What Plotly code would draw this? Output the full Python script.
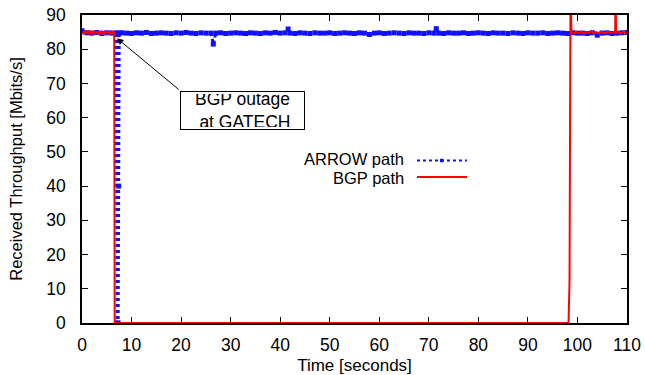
import plotly.graph_objects as go

# ---- data ----
arrow_t = [0, 1, 2, 3, 4, 5, 6, 6.9, 7.1, 7.3, 7.4, 7.5, 8, 9, 10, 11, 12, 13, 14, 15,
           16, 17, 18, 19, 20, 21, 22, 23, 24, 25, 26, 26.5, 27, 28, 29, 30, 31, 32, 33, 34,
           35, 36, 37, 38, 39, 40, 41, 41.6, 42, 43, 44, 45, 46, 47, 48, 49, 50, 51, 52, 53,
           54, 55, 56, 57, 58, 59, 60, 61, 62, 63, 64, 65, 66, 67, 68, 69, 70, 71, 71.5, 72,
           73, 74, 75, 76, 77, 78, 79, 80, 81, 82, 83, 84, 85, 86, 87, 88, 89, 90, 91, 92,
           93, 94, 95, 96, 97, 98, 99, 100, 101, 102, 103, 104, 105, 106, 107, 108, 109, 110]
arrow_v = [85.4, 84.8, 84.7, 84.9, 84.6, 84.8, 84.7, 84.8, 0, 0, 40, 84.7, 84.8, 84.7, 84.6, 84.8, 84.7, 84.9, 84.6, 84.7,
           84.8, 84.7, 84.6, 84.8, 84.7, 84.9, 84.7, 84.6, 84.8, 84.7, 84.7, 81.5, 84.7, 84.8, 84.6, 84.7, 84.8, 84.7, 84.6, 84.8,
           84.7, 84.6, 84.8, 84.7, 84.9, 84.7, 84.8, 85.9, 84.7, 84.6, 84.8, 84.7, 84.6, 84.8, 84.7, 84.7, 84.8, 84.6, 84.7, 84.8,
           84.7, 84.6, 84.8, 84.7, 84.3, 84.7, 84.8, 84.6, 84.7, 84.8, 84.7, 84.6, 84.8, 84.7, 84.7, 84.6, 84.8, 84.7, 86.0, 84.7,
           84.6, 84.8, 84.7, 84.7, 84.8, 84.6, 84.7, 84.8, 84.7, 84.6, 84.8, 84.7, 84.7, 84.6, 84.8, 84.7, 84.6, 84.8, 84.7, 84.7,
           84.8, 84.6, 84.7, 84.8, 84.7, 84.6, 84.8, 84.7, 84.7, 84.6, 84.8, 84.1, 84.7, 84.8, 84.6, 84.7, 84.8, 84.9]

bgp_t = [0, 0.25, 0.5, 0.75, 1, 1.25, 1.5, 1.75, 2, 2.25, 2.5, 2.75, 3, 3.25, 3.5, 3.75,
         4, 4.25, 4.5, 4.75, 5, 5.25, 5.5, 5.75, 6, 6.25, 6.5, 6.6, 98.2, 98.4, 98.6, 98.8,
         99.25, 99.75, 100.25, 100.75, 101.25, 101.75, 102.25, 102.75, 103.25, 103.75, 104.25,
         104.75, 105.25, 105.75, 106.25, 106.75, 107.25, 107.6, 107.7, 107.8, 108.25, 108.75,
         109.25, 109.75, 110]
bgp_v = [85.0, 84.6, 85.3, 84.5, 85.2, 84.7, 85.4, 84.6, 85.1, 84.5, 85.3, 84.8, 85.0, 84.4, 85.3, 84.7,
         85.2, 84.6, 85.0, 84.5, 85.3, 84.7, 85.1, 84.6, 85.2, 84.8, 85.0, 0, 0, 12, 97, 84.9,
         84.6, 85.1, 84.7, 85.2, 84.5, 85.0, 84.8, 85.3, 84.6, 85.0, 84.7,
         85.2, 84.6, 84.9, 85.1, 84.7, 85.0, 84.9, 97, 84.8, 85.0, 84.6,
         85.1, 84.8, 85.0]

x_ticks = [0, 10, 20, 30, 40, 50, 60, 70, 80, 90, 100, 110]
y_ticks = [0, 10, 20, 30, 40, 50, 60, 70, 80, 90]

FONT = "Liberation Sans, Arial, Helvetica, sans-serif"
BLUE = "#1010ff"
RED = "#ff0000"

fig = go.Figure()
fig.add_trace(go.Scatter(
    x=arrow_t, y=arrow_v, mode="lines+markers", name="ARROW path",
    line=dict(color=BLUE, width=3, dash="dot"),
    marker=dict(color=BLUE, size=5, symbol="square"),
    showlegend=False,
))
fig.add_trace(go.Scatter(
    x=bgp_t, y=bgp_v, mode="lines", name="BGP path",
    line=dict(color=RED, width=2),
    showlegend=False,
))

# plot area in px: x 82..627, y 15..323
L, R, T, B = 82, 627, 15, 323
def px(xp):
    return (xp - L) / (R - L)
def py(yp):
    return (B - yp) / (B - T)

shapes = []
annotations = []
# custom legend (text right-aligned, sample on the right)
annotations.append(dict(xref="paper", yref="paper", x=px(406), y=py(159.5), text="ARROW path",
                        showarrow=False, xanchor="right", yanchor="middle",
                        font=dict(family=FONT, size=16.5, color="black")))
annotations.append(dict(xref="paper", yref="paper", x=px(406), y=py(178), text="BGP path",
                        showarrow=False, xanchor="right", yanchor="middle",
                        font=dict(family=FONT, size=16.5, color="black")))
shapes.append(dict(type="line", xref="paper", yref="paper", x0=px(417), x1=px(467),
                   y0=py(160.5), y1=py(160.5), line=dict(color=BLUE, width=2, dash="dot")))
shapes.append(dict(type="rect", xref="paper", yref="paper", x0=px(440), x1=px(443.5),
                   y0=py(162.2), y1=py(158.8), line=dict(width=0), fillcolor=BLUE))
shapes.append(dict(type="line", xref="paper", yref="paper", x0=px(417), x1=px(467),
                   y0=py(177), y1=py(177), line=dict(color=RED, width=2)))

# arrow pointing at outage
annotations.append(dict(x=7.05, y=83.2, ax=19.8, ay=67.9, xref="x", yref="y", axref="x", ayref="y",
                        text="", showarrow=True, arrowhead=2, arrowsize=1.3, arrowwidth=1,
                        arrowcolor="black"))
# label box
annotations.append(dict(xref="paper", yref="paper", x=px(242.5), y=py(110.5),
                        text="BGP outage<br> at GATECH", showarrow=False,
                        xanchor="center", yanchor="middle", align="center",
                        width=119, height=33, borderpad=2, bordercolor="black", borderwidth=1,
                        bgcolor="white",
                        font=dict(family=FONT, size=17.5, color="black")))

fig.update_layout(
    width=645, height=375,
    margin=dict(l=L, r=645 - R, t=T, b=375 - B),
    plot_bgcolor="white", paper_bgcolor="white",
    font=dict(family=FONT, size=17, color="black"),
    shapes=shapes, annotations=annotations,
)
fig.update_xaxes(
    range=[0, 110], tickvals=x_ticks, ticktext=[str(v) for v in x_ticks],
    ticks="inside", ticklen=6, tickwidth=1, tickcolor="black",
    showline=True, linecolor="black", linewidth=1.5, mirror="ticks",
    showgrid=False, zeroline=False, automargin=False,
    title=dict(text="Time [seconds]", standoff=8, font=dict(size=17)),
    tickfont=dict(size=17.5), ticklabelstandoff=5,
)
fig.update_yaxes(
    range=[0, 90], tickvals=y_ticks, ticktext=[str(v) for v in y_ticks],
    ticks="inside", ticklen=6, tickwidth=1, tickcolor="black",
    showline=True, linecolor="black", linewidth=1.5, mirror="ticks",
    showgrid=False, zeroline=False, automargin=False,
    title=dict(text="Received Throughput [Mbits/s]", standoff=20, font=dict(size=16.5)),
    tickfont=dict(size=17.5), ticklabelstandoff=11,
)

fig.write_html("out.html")
